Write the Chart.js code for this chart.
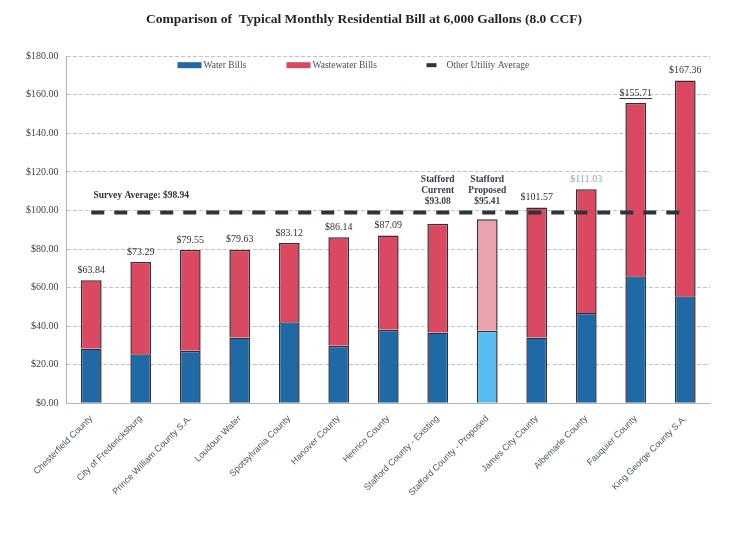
<!DOCTYPE html>
<html>
<head>
<meta charset="utf-8">
<script src="https://cdn.jsdelivr.net/npm/chart.js@4/dist/chart.umd.min.js"></script>
<style>
  html, body { margin: 0; padding: 0; background: #fff; }
  #wrap { width: 730px; height: 535px; }
</style>
</head>
<body>
<div id="wrap"><canvas id="chart"></canvas></div>
<script>
const categories = [
  'Chesterfield County',
  'City of Fredericksburg',
  'Prince William County S.A.',
  'Loudoun Water',
  'Spotsylvania County',
  'Hanover County',
  'Henrico County',
  'Stafford County - Existing',
  'Stafford County - Proposed',
  'James City County',
  'Albemarle County',
  'Fauquier County',
  'King George County S.A.',
];

// monthly bill totals printed above the bars
const totals = [63.84, 73.29, 79.55, 79.63, 83.12, 86.14, 87.09, 93.08, 95.41, 101.57, 111.03, 155.71, 167.36];

// (water part of each bar)
const waterBills = [28.5, 25.5, 27.3, 34.2, 42.0, 29.9, 38.2, 36.8, 37.7, 34.2, 46.9, 65.9, 55.5];
const wastewaterBills = [35.34, 47.79, 52.25, 45.43, 41.12, 56.24, 48.89, 56.28, 57.71, 67.37, 64.13, 89.81, 111.86];

const surveyAverage = [98.94, 98.94, 98.94, 98.94, 98.94, 98.94, 98.94, 98.94, 98.94, 98.94, 98.94, 98.94, 98.94];

const yTicks = [0, 20, 40, 60, 80, 100, 120, 140, 160, 180];

const SERIF = '"Liberation Serif", "Times New Roman", serif';
const SANS = '"Liberation Sans", Arial, sans-serif';

const proposedIdx = 8;
const waterColors = categories.map((c, i) => i === proposedIdx ? '#55bdf0' : '#1f6aa6');
const wasteColors = categories.map((c, i) => i === proposedIdx ? '#eaa3ae' : '#da4862');

const money = v => '$' + v.toFixed(2);

// labels over the bars, the survey average note and the legend
const annotations = {
  id: 'annotations',
  afterDatasetsDraw(chart) {
    const { ctx, chartArea } = chart;
    const x = chart.scales.x;
    const y = chart.scales.y;
    ctx.save();
    ctx.textAlign = 'center';
    ctx.textBaseline = 'bottom';
    totals.forEach((t, i) => {
      const px = x.getPixelForValue(i);
      if (i === 7 || i === 8) {
        const lines = i === 7 ? ['Stafford', 'Current', money(t)] : ['Stafford', 'Proposed', money(t)];
        ctx.font = 'bold 9.5px ' + SERIF;
        ctx.fillStyle = '#3a3f48';
        const base = y.getPixelForValue(surveyAverage[i]) - 6;
        lines.forEach((l, k) => {
          ctx.fillText(l, px, base - (2 - k) * 11);
        });
        return;
      }
      const py = y.getPixelForValue(t) - 5;
      ctx.font = '10px ' + SERIF;
      ctx.fillStyle = i === 10 ? '#8ea6c0' : '#2e3238';
      const s = money(t);
      ctx.fillText(s, px, py);
      if (i === 11) {
        const w = ctx.measureText(s).width;
        ctx.fillRect(px - w / 2, py, w, 1);
      }
    });

    // survey average note
    ctx.textAlign = 'left';
    ctx.font = 'bold 9.5px ' + SERIF;
    ctx.fillStyle = '#30343a';
    ctx.fillText('Survey Average: ' + money(surveyAverage[0]), chartArea.left + 27, y.getPixelForValue(surveyAverage[0]) - 12);

    // legend inside the plot
    const ly = chartArea.top + 9;
    const items = [
      { x: 111, w: 24, h: 6, color: '#1f6aa6', text: 'Water Bills' },
      { x: 220, w: 24, h: 6, color: '#da4862', text: 'Wastewater Bills' },
      { x: 360, w: 10, h: 4, color: '#2f3436', text: 'Other Utility Average' },
    ];
    ctx.textBaseline = 'middle';
    ctx.font = '9.5px ' + SERIF;
    items.forEach(it => {
      const lx = chartArea.left + it.x;
      ctx.fillStyle = it.color;
      ctx.fillRect(lx, ly - it.h / 2, it.w, it.h);
      ctx.fillStyle = '#4a4f56';
      ctx.fillText(it.text, lx + it.w + (it.w < 20 ? 10 : 2), ly);
    });
    ctx.restore();
  }
};

new Chart(document.getElementById('chart'), {
  type: 'bar',
  data: {
    labels: categories,
    datasets: [
      {
        label: 'Water Bills',
        data: waterBills,
        backgroundColor: waterColors,
        borderColor: '#3a2c34',
        borderWidth: 1.5,
        order: 2,
      },
      {
        label: 'Wastewater Bills',
        data: wastewaterBills,
        backgroundColor: wasteColors,
        borderColor: '#3a2c34',
        borderWidth: 1.5,
        order: 2,
      },
      {
        type: 'line',
        label: 'Other Utility Average',
        data: surveyAverage,
        stack: 'avg',
        borderColor: '#2f3436',
        borderWidth: 4,
        borderDash: [13, 10],
        pointRadius: 0,
        fill: false,
        order: 1,
      },
    ],
  },
  options: {
    responsive: true,
    maintainAspectRatio: false,
    animation: false,
    datasets: {
      bar: { barPercentage: 0.42, categoryPercentage: 1 },
    },
    layout: { padding: { left: 18, right: 20, top: 0, bottom: 35 } },
    plugins: {
      legend: { display: false },
      tooltip: { enabled: false },
      title: {
        display: true,
        text: 'Comparison of  Typical Monthly Residential Bill at 6,000 Gallons (8.0 CCF)',
        color: '#1f2226',
        font: { family: SERIF, size: 13.5, weight: 'bold' },
        padding: { top: 11, bottom: 29 },
      },
    },
    scales: {
      x: {
        stacked: true,
        grid: { display: false },
        border: { color: '#aab6be' },
        ticks: {
          minRotation: 45,
          maxRotation: 45,
          color: '#4a5661',
          font: { family: SANS, size: 9 },
          padding: 2,
        },
      },
      y: {
        stacked: true,
        min: 0,
        max: 180,
        afterBuildTicks: axis => { axis.ticks = yTicks.map(v => ({ value: v })); },
        grid: { color: '#bcc6cd', drawTicks: false },
        border: { color: '#aab6be', dash: [4, 2] },
        ticks: {
          color: '#3e4248',
          font: { family: SERIF, size: 10 },
          padding: 8,
          callback: v => money(v),
        },
      },
    },
  },
  plugins: [annotations],
});
</script>
</body>
</html>
